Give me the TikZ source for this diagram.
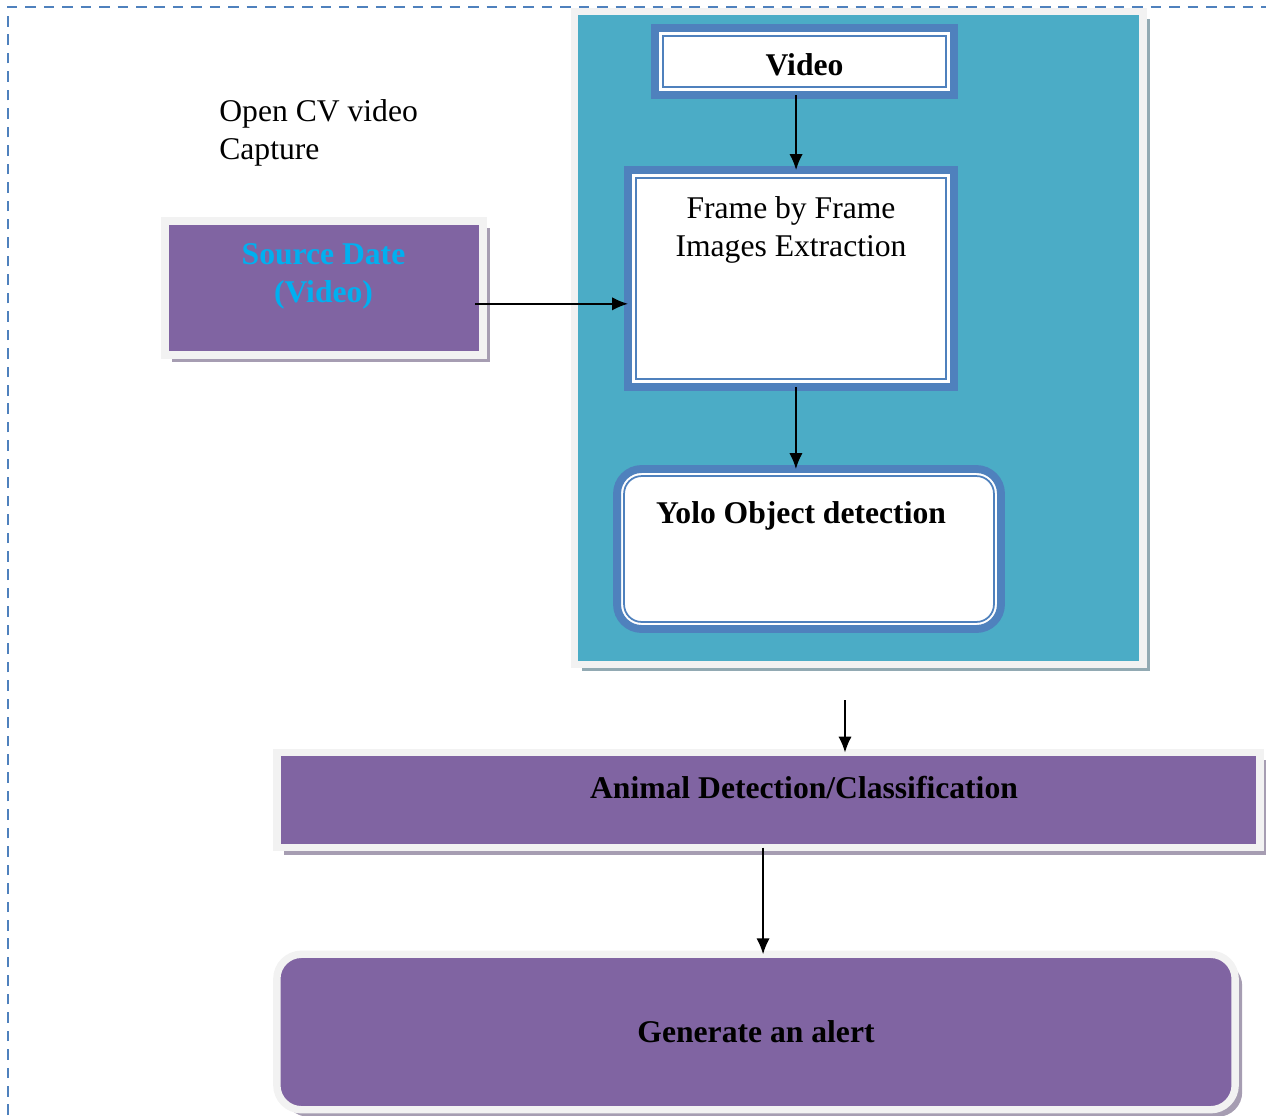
\documentclass[tikz,border=0pt]{standalone}
\usepackage{fontspec}
\setmainfont{Liberation Serif}
\usetikzlibrary{arrows.meta,shadows}
\definecolor{accblue}{HTML}{4F81BD}
\definecolor{accteal}{HTML}{4BACC6}
\definecolor{accpurple}{HTML}{8064A2}
\definecolor{srccyan}{HTML}{00B0F0}
\definecolor{framegray}{HTML}{F2F2F2}
\definecolor{shadepurple}{HTML}{A69DB2}
\definecolor{shadeteal}{HTML}{92AAB3}
\tikzset{
  panel/.style={rectangle,fill=accteal,draw=framegray,line width=4.2pt,outer sep=0pt,
    drop shadow={shadow xshift=4pt,shadow yshift=-4pt,fill=shadeteal,opacity=1}},
  purple box/.style={rectangle,fill=accpurple,draw=framegray,line width=4.2pt,outer sep=0pt,
    drop shadow={shadow xshift=4pt,shadow yshift=-4pt,fill=shadepurple,opacity=1}},
  blue box/.style={rectangle,fill=white,draw=accblue,line width=4.5pt,outer sep=0pt},
  plain text/.style={font=\fontsize{18}{21.5}\selectfont,inner sep=0pt,align=center},
  bold text/.style={font=\fontsize{18}{21.5}\selectfont\bfseries,inner sep=0pt,align=center},
  flow/.style={-{Latex[length=9pt,width=7.5pt]},line width=0.9pt},
}

\begin{document}
\begin{tikzpicture}[x=0.02cm,y=-0.02cm]
    \useasboundingbox (0,0) rectangle (1266,1115);
    \draw[accblue,line width=1.3pt,dash pattern=on 6pt off 4.5pt] (8,1115) -- (8,7) -- (1266,7);

    % containers
    \node[panel,minimum width=11.37cm,minimum height=13.06cm] (teal) at (858.75,338) {};
    \node[purple box,minimum width=6.36cm,minimum height=2.68cm] (source) at (324,288) {};
    \node[purple box,minimum width=19.66cm,minimum height=1.9cm] (animal) at (768.5,800) {};
    \node[purple box,rounded corners=14pt,minimum width=19.17cm,minimum height=3.11cm,bold text] (alert) at (756,1032) {Generate an alert};

    % boxes inside the panel
    \node[blue box,minimum width=5.98cm,minimum height=1.34cm] (video) at (804.5,61.5) {};
    \node[blue box,minimum width=6.52cm,minimum height=4.34cm] (frame) at (791,278.5) {};
    \node[blue box,rounded corners=14pt,minimum width=7.68cm,minimum height=3.2cm] (yolo) at (809,549) {};
    \foreach \n in {video,frame}
        \draw[accblue,line width=1pt] ([shift={(4.5pt,4.5pt)}]\n.south west) rectangle ([shift={(-4.5pt,-4.5pt)}]\n.north east);
    \draw[accblue,line width=1pt,rounded corners=10pt] ([shift={(4pt,4pt)}]yolo.south west) rectangle ([shift={(-4pt,-4pt)}]yolo.north east);

    % texts
    \node[plain text,align=left,anchor=west] (opencv) at (219,133) {Open CV video\\Capture};
    \node[bold text,text=srccyan,anchor=north] (sourcetext) at (323.5,243) {Source Date\\(Video)};
    \node[bold text] (videotext) at (804.5,65) {Video};
    \node[plain text,anchor=north] (frametext) at (791,196) {Frame by Frame\\Images Extraction};
    \node[bold text] (yolotext) at (801,516) {Yolo Object detection};
    \node[bold text] (animaltext) at (804,788) {Animal Detection/Classification};

    % arrows
    \draw[flow] ([xshift=-4.8pt]video.south) -- ([xshift=-4.8pt]video.south |- frame.north);
    \draw[flow] ([xshift=-4.5pt,yshift=-9pt]source.east) -- ([yshift=-9pt]source.east -| frame.west);
    \draw[flow] ([xshift=2.8pt]frame.south) -- ([xshift=2.8pt]frame.south |- yolo.north);
    \coordinate (gap) at (845,700);
    \draw[flow] (gap) -- (gap |- animal.north);
    \draw[flow] ([xshift=-3.1pt]animal.south) -- ([xshift=-3.1pt]animal.south |- alert.north);
\end{tikzpicture}
\end{document}
